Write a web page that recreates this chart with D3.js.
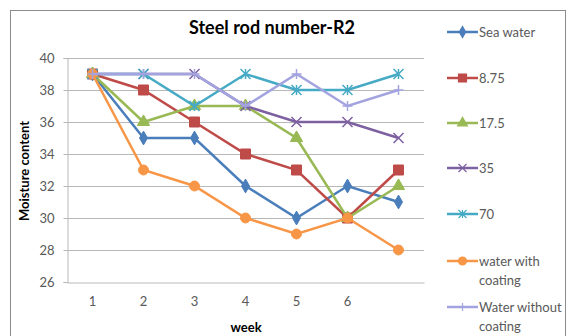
<!DOCTYPE html>
<html>
<head>
<meta charset="utf-8">
<script src="https://cdn.jsdelivr.net/npm/d3@7"></script>
<style>
  body { margin: 0; background: #fff; }
  text { font-family: Lato, "Open Sans", sans-serif; }
</style>
</head>
<body>
<div id="chart-area"></div>
<script>
// data
var weeks = ["1", "2", "3", "4", "5", "6", "7"];
var weekLabels = ["1", "2", "3", "4", "5", "6", ""];
var seriesNames = ["Sea water", "8.75", "17.5", "35", "70", "water with coating", "Water without coating"];
var seaWater = [39, 35, 35, 32, 30, 32, 31];
var s875 = [39, 38, 36, 34, 33, 30, 33];
var s175 = [39, 36, 37, 37, 35, 30, 32];
var s35 = [39, 39, 39, 37, 36, 36, 35];
var s70 = [39, 39, 37, 39, 38, 38, 39];
var withCoating = [39, 33, 32, 30, 29, 30, 28];
var withoutCoating = [39, 39, 39, 37, 39, 37, 38];
var yTicks = [26, 28, 30, 32, 34, 36, 38, 40];

var colors = ["#4a7ebb", "#be4b48", "#98b954", "#7d60a0", "#46aac5", "#f79646", "#a3a3e0"];
var markers = ["diamond", "square", "triangle", "x", "star", "circle", "plus"];
var values = [seaWater, s875, s175, s35, s70, withCoating, withoutCoating];

var W = 568, H = 336;
var plot = {left: 67, top: 58, right: 424, bottom: 282};

var svg = d3.select("#chart-area").append("svg")
    .attr("width", W)
    .attr("height", H);

// outer chart border
svg.append("rect")
    .attr("x", 10.5).attr("y", 10.5)
    .attr("width", 555).attr("height", 330)
    .attr("fill", "#fff")
    .attr("stroke", "#8c8c8c");

var x = d3.scaleBand().domain(weeks).range([plot.left, plot.right]);
var y = d3.scaleLinear().domain([26, 40]).range([plot.bottom, plot.top]);

// gridlines
svg.append("g").selectAll("line")
    .data(yTicks.slice(1))
    .enter().append("line")
    .attr("x1", plot.left).attr("x2", plot.right)
    .attr("y1", function(d) { return Math.round(y(d)) + 0.5; })
    .attr("y2", function(d) { return Math.round(y(d)) + 0.5; })
    .attr("stroke", "#b8b8b8");

// y axis
var yAxis = d3.axisLeft(y).tickValues(yTicks).tickSize(4).tickPadding(9);
var gy = svg.append("g")
    .attr("transform", "translate(" + (plot.left + 0.5) + ",0)")
    .call(yAxis);
gy.select(".domain").attr("stroke", "#b8b8b8");
gy.selectAll(".tick line").attr("stroke", "#b8b8b8");
gy.selectAll("text").attr("font-size", "13px").attr("fill", "#595959");

// x axis
var xAxis = d3.axisBottom(x).tickSize(0).tickPadding(14)
    .tickFormat(function(d, i) { return weekLabels[i]; });
var gx = svg.append("g")
    .attr("transform", "translate(0," + (plot.bottom + 0.5) + ")")
    .call(xAxis);
gx.select(".domain").attr("stroke", "#b8b8b8");
gx.selectAll("text").attr("font-size", "13px").attr("fill", "#595959");

// titles
svg.append("text")
    .attr("x", 272).attr("y", 34)
    .attr("text-anchor", "middle")
    .attr("font-size", "18px")
    .attr("font-weight", "bold")
    .attr("fill", "#000")
    .text("Steel rod number-R2");

svg.append("text")
    .attr("x", 246).attr("y", 332)
    .attr("text-anchor", "middle")
    .attr("font-size", "13px")
    .attr("font-weight", "bold")
    .text("week");

svg.append("text")
    .attr("transform", "translate(29," + ((plot.top + plot.bottom) / 2 + 1) + ") rotate(-90)")
    .attr("text-anchor", "middle")
    .attr("font-size", "13px")
    .attr("font-weight", "bold")
    .text("Moisture content");

function markerPath(type, r) {
    if (type === "diamond") return d3.symbol(d3.symbolDiamond, r * r * 2.2)();
    if (type === "square") return d3.symbol(d3.symbolSquare, r * r * 4)();
    if (type === "triangle") return d3.symbol(d3.symbolTriangle, r * r * 2.6)();
    if (type === "circle") return d3.symbol(d3.symbolCircle, r * r * 3.1)();
    if (type === "x") return "M" + -r + "," + -r + "L" + r + "," + r + "M" + -r + "," + r + "L" + r + "," + -r;
    if (type === "plus") return "M" + -r + ",0L" + r + ",0M0," + -r + "L0," + r;
    if (type === "star") return "M" + -r + "," + -r + "L" + r + "," + r + "M" + -r + "," + r + "L" + r + "," + -r + "M0," + -r + "L0," + r;
    return "";
}

var line = d3.line()
    .x(function(d, i) { return x(weeks[i]) + x.bandwidth() / 2; })
    .y(function(d) { return y(d); });

// draw series (in order, later on top)
values.forEach(function(vals, k) {
    var g = svg.append("g");
    g.append("path")
        .datum(vals)
        .attr("d", line)
        .attr("fill", "none")
        .attr("stroke", colors[k])
        .attr("stroke-width", 2.5);
    var filled = ["diamond", "square", "triangle", "circle"].indexOf(markers[k]) >= 0;
    g.selectAll("path.m")
        .data(vals)
        .enter().append("path")
        .attr("class", "m")
        .attr("transform", function(d, i) {
            return "translate(" + (x(weeks[i]) + x.bandwidth() / 2) + "," + y(d) + ")";
        })
        .attr("d", markerPath(markers[k], 5))
        .attr("fill", filled ? colors[k] : "none")
        .attr("stroke", colors[k])
        .attr("stroke-width", filled ? 1 : 1.5);
});

// legend
var legendRows = [
    {lines: ["Sea water"], y: 32},
    {lines: ["8.75"], y: 78},
    {lines: ["17.5"], y: 123},
    {lines: ["35"], y: 168},
    {lines: ["70"], y: 214},
    {lines: ["water with", "coating"], y: 261},
    {lines: ["Water without", "coating"], y: 307}
];

legendRows.forEach(function(row, k) {
    var lg = svg.append("g").attr("transform", "translate(447," + row.y + ")");
    lg.append("line")
        .attr("x1", 0).attr("x2", 31)
        .attr("stroke", colors[k]).attr("stroke-width", 2.5);
    var filled = ["diamond", "square", "triangle", "circle"].indexOf(markers[k]) >= 0;
    lg.append("path")
        .attr("transform", "translate(15.5,0)")
        .attr("d", markerPath(markers[k], 4))
        .attr("fill", filled ? colors[k] : "none")
        .attr("stroke", colors[k])
        .attr("stroke-width", 1.2);
    row.lines.forEach(function(t, j) {
        lg.append("text")
            .attr("x", 32).attr("y", j * 19 + 5)
            .attr("font-size", "13px")
            .attr("fill", "#595959")
            .text(t);
    });
});
</script>
</body>
</html>
